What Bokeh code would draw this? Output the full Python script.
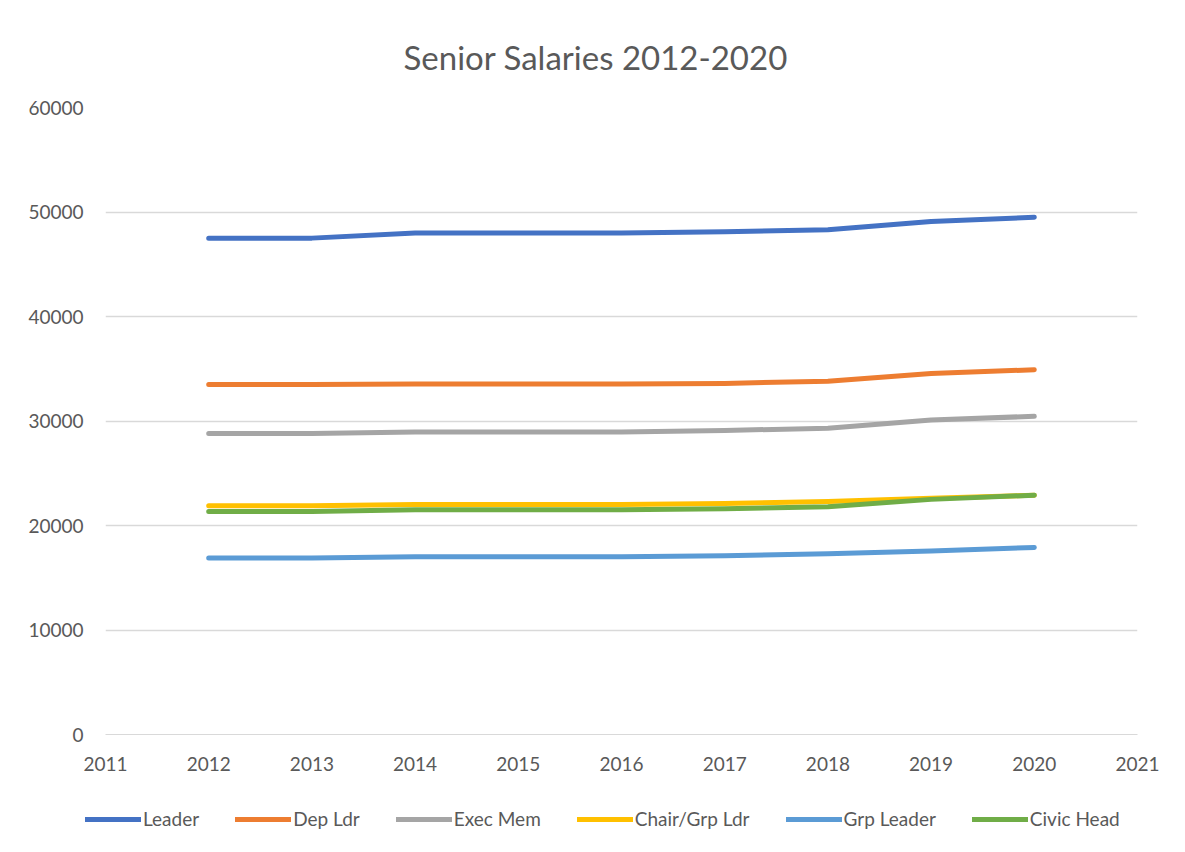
from bokeh.plotting import figure
from bokeh.embed import file_html
from bokeh.resources import INLINE
from bokeh.layouts import column, row
from bokeh.models import Legend, LegendItem, FixedTicker, Range1d

years = [2012, 2013, 2014, 2015, 2016, 2017, 2018, 2019, 2020]
leader = [47500, 47500, 48000, 48000, 48000, 48100, 48300, 49100, 49500]
dep_ldr = [33500, 33500, 33550, 33550, 33550, 33600, 33800, 34550, 34900]
exec_mem = [28800, 28800, 28950, 28950, 28950, 29100, 29300, 30100, 30450]
chair_grp_ldr = [21900, 21900, 22000, 22000, 22000, 22100, 22300, 22600, 22900]
grp_leader = [16900, 16900, 17000, 17000, 17000, 17100, 17300, 17550, 17900]
civic_head = [21350, 21350, 21500, 21500, 21500, 21600, 21800, 22500, 22900]

series_names = ["Leader", "Dep Ldr", "Exec Mem", "Chair/Grp Ldr", "Grp Leader", "Civic Head"]
series_values = [leader, dep_ldr, exec_mem, chair_grp_ldr, grp_leader, civic_head]
colors = ["#4472C4", "#ED7D31", "#A5A5A5", "#FFC000", "#5B9BD5", "#70AD47"]
x_ticks = list(range(2011, 2022))
y_ticks = list(range(0, 60001, 10000))

FONT = "Lato"
TXT = "#595959"

p = figure(width=1185, height=787, output_backend="svg", toolbar_location=None,
           x_range=Range1d(2011, 2021), y_range=Range1d(0, 60000),
           min_border_left=105, min_border_right=48, min_border_top=107, min_border_bottom=53)
p.outline_line_color = None
p.background_fill_color = "white"
p.border_fill_color = "white"

p.title.text = "Senior Salaries 2012-2020"
p.title.align = "left"
p.title.text_font = FONT
p.title.text_font_size = "33px"
p.title.text_font_style = "normal"
p.title.text_color = TXT
p.title.standoff = 62
p.title.offset = 298

p.xgrid.grid_line_color = None
p.ygrid.grid_line_color = "#d9d9d9"
p.ygrid.grid_line_width = 1.5

for ax in (p.xaxis[0], p.yaxis[0]):
    ax.axis_line_color = None
    ax.major_tick_line_color = None
    ax.minor_tick_line_color = None
    ax.major_label_text_font = FONT
    ax.major_label_text_font_size = "19px"
    ax.major_label_text_color = TXT
p.xaxis[0].ticker = FixedTicker(ticks=x_ticks)
p.yaxis[0].ticker = FixedTicker(ticks=y_ticks)
p.xaxis[0].major_label_standoff = 16
p.yaxis[0].major_label_standoff = 16
p.xaxis[0].axis_line_color = "#d9d9d9"

for name, vals, c in zip(series_names, series_values, colors):
    p.line(years, vals, line_color=c, line_width=5, line_cap="round", line_join="round")

# legend strip below the chart
lg = figure(width=1185, height=65, output_backend="svg", toolbar_location=None,
            x_range=Range1d(0, 1), y_range=Range1d(0, 1),
            min_border=0, min_border_left=0, min_border_right=0, min_border_top=0, min_border_bottom=0,
            x_axis_type=None, y_axis_type=None)
lg.outline_line_color = None
lg.xgrid.visible = False
lg.ygrid.visible = False
items = []
for name, c in zip(series_names, colors):
    r = lg.line([5, 6], [5, 6], line_color=c, line_width=5, line_cap="round")
    items.append(LegendItem(label=name, renderers=[r]))
legend = Legend(items=items, orientation="horizontal", location=(85, 22),
                label_text_font=FONT, label_text_font_size="19px", label_text_color=TXT,
                glyph_width=56, glyph_height=18, label_standoff=2, spacing=36,
                margin=0, padding=0, border_line_color=None, background_fill_alpha=0)
lg.add_layout(legend, "center")

open("out.html", "w").write(file_html(column(p, row(lg), spacing=0), INLINE))
